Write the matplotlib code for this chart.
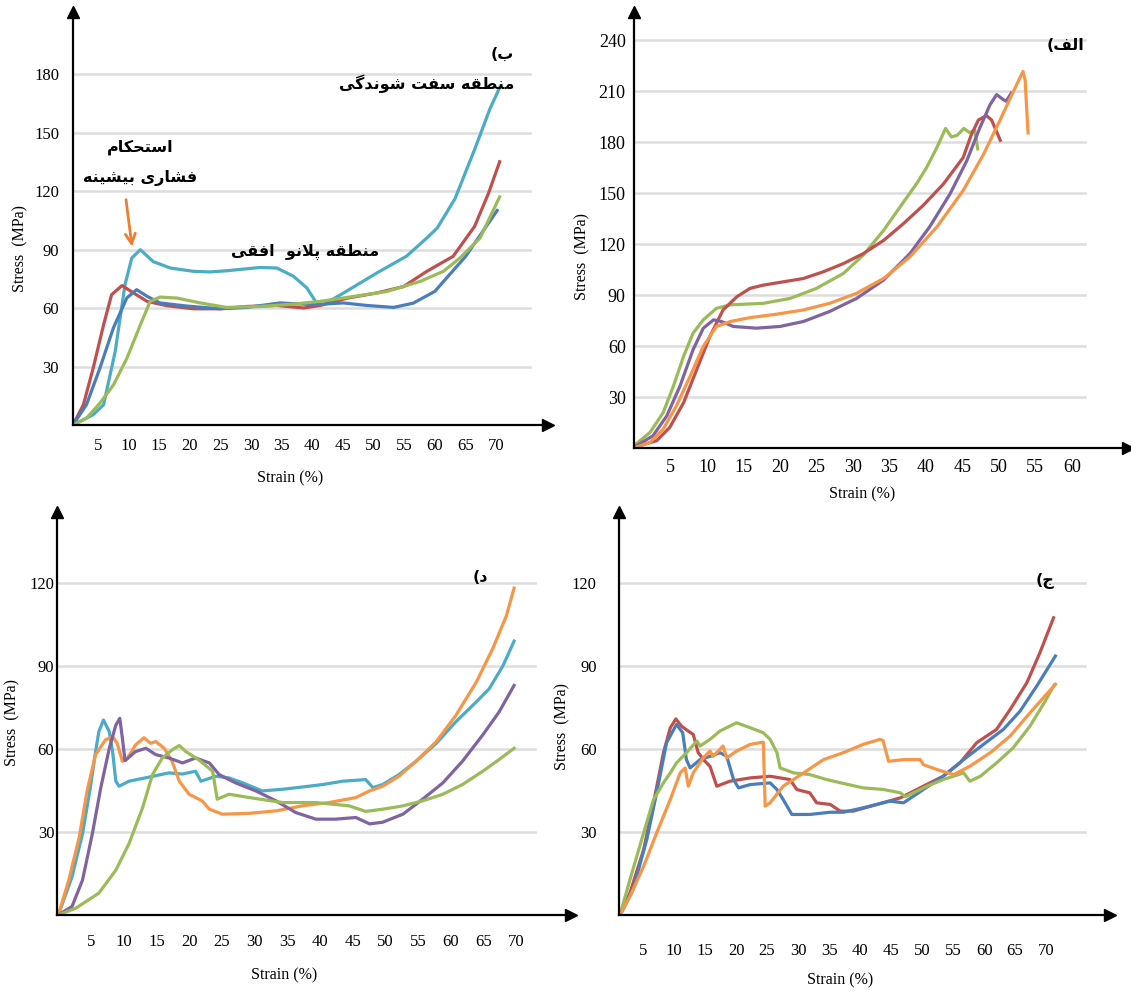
import matplotlib
matplotlib.use("Agg")
import matplotlib.pyplot as plt

# ---------------- data (strain %, stress MPa) ----------------
# panel b (top left)
b_cyan_x = [0.9, 4.2, 5.9, 7.8, 9.4, 10.5, 11.9, 14.0, 16.8, 20.6, 23.3, 26.0, 31.5, 34.2, 36.9, 39.1, 40.7, 41.8,
            45.1, 50.5, 55.4, 58.7, 60.4, 63.3, 66.6, 69.0, 70.6]
b_cyan_y = [0, 5.3, 10.4, 37.8, 72, 85.6, 89.9, 83.8, 80.5, 78.8, 78.5, 79.1, 80.8, 80.5, 76.3, 70.3, 62.5, 61.7,
            67.7, 77.9, 86.6, 95.9, 101, 116, 142, 162, 173]
b_red_x = [0.9, 2.6, 4.2, 5.9, 7.2, 8.9, 10.8, 13.0, 16.2, 20.6, 24.9, 29.3, 34.2, 38.6, 41.3, 45.6, 50.5, 54.9,
           58.7, 63.0, 66.5, 68.8, 70.6]
b_red_y = [0, 10.4, 29.2, 51.4, 66.8, 71.5, 67.7, 63.4, 61.2, 59.6, 59.6, 60.8, 61.3, 60.0, 61.3, 65.0, 67.7, 71.0,
           78.8, 86.5, 101.8, 119, 135]
b_blue_x = [0.9, 3.1, 5.3, 7.5, 9.7, 11.3, 13.0, 15.1, 19.5, 24.9, 29.3, 34.7, 40.2, 45.1, 48.9, 53.3, 56.5, 60.0,
            65.0, 70.2]
b_blue_y = [0, 10.4, 29.2, 49.8, 65.2, 69.4, 66.0, 62.6, 61.0, 59.6, 60.3, 62.6, 61.7, 62.6, 61.3, 60.3, 62.5, 68.5,
            86.3, 110]
b_green_x = [0.9, 3.1, 5.3, 7.5, 9.7, 11.9, 13.5, 15.1, 17.9, 21.7, 26.0, 31.5, 36.9, 41.3, 46.7, 52.2, 57.6, 61.4,
             64.1, 67.4, 70.6]
b_green_y = [0, 3.5, 11.2, 20.5, 34.2, 51.3, 63.4, 65.6, 65.1, 62.6, 60.3, 60.8, 62.0, 63.4, 65.9, 68.5, 73.6, 78.8,
             85.6, 95.9, 117]

# panel alef (top right)
a_green_x = [0, 2.2, 4.0, 5.4, 6.8, 8.1, 9.5, 11.3, 13.2, 17.7, 21.4, 25.0, 28.7, 31.4, 34.2, 36.9, 38.7, 40.1, 41.5,
             42.7, 43.5, 44.3, 45.2, 46.0, 46.7, 47.1]
a_green_y = [1.4, 9.2, 20.8, 36.4, 54, 67.6, 75.4, 82.2, 84.2, 85.1, 88, 93.9, 102.7, 113.4, 128, 144.5, 155.3, 165,
             176.7, 188, 183, 184, 188, 185.5, 187, 176]
a_red_x = [0, 3.1, 4.9, 6.8, 8.6, 10.4, 12.2, 14.1, 15.9, 17.7, 20.5, 23.2, 25.9, 28.7, 31.4, 34.2, 36.9, 39.6, 42.4,
           45.1, 46.2, 47.2, 48.3, 49.0, 49.7, 50.2]
a_red_y = [0.4, 4.3, 12.1, 26.7, 46.2, 65.6, 81.2, 89, 93.9, 95.8, 97.8, 99.7, 103.6, 108.5, 114.3, 122.1, 131.9,
           142.6, 155.3, 170.8, 184, 193, 195.5, 193, 186, 181]
a_purple_x = [0, 2.6, 4.5, 6.3, 8.1, 9.5, 10.9, 12.0, 13.6, 16.8, 20.0, 23.2, 26.8, 30.5, 34.2, 37.8, 40.5, 43.3,
              45.6, 47.4, 48.8, 49.7, 50.6, 51.0, 51.7]
a_purple_y = [0.4, 7.2, 18.9, 36.4, 57.9, 70.5, 75.4, 74.4, 71.5, 70.5, 71.5, 74.4, 80.3, 88, 98.8, 114.3, 130, 149.4,
              168.9, 188.4, 202, 207.9, 205, 204, 208.8]
a_orange_x = [0, 2.2, 4.0, 5.8, 7.7, 9.5, 11.3, 13.2, 15.9, 19.5, 23.2, 26.8, 30.5, 34.2, 37.8, 41.5, 45.1, 47.9,
              50.1, 52.0, 53.3, 53.6, 54.0]
a_orange_y = [0, 3.3, 11.1, 24.7, 42.3, 59.8, 71.5, 74.4, 76.7, 78.7, 81.2, 85.1, 91, 99.7, 112.4, 130, 151.4, 172.8,
              192.3, 209.8, 221.5, 216.6, 185.4]

# panel dal (bottom left)
d_cyan_x = [0, 2.1, 3.7, 4.9, 5.7, 6.2, 6.9, 7.8, 8.3, 8.8, 9.3, 10.8, 13.9, 16.9, 19.0, 21.0, 21.8, 24.1, 26.1,
            28.2, 31.2, 34.3, 37.3, 40.4, 43.5, 47.0, 48.1, 49.6, 52.1, 54.7, 57.8, 60.8, 63.9, 65.9, 68.0, 69.7]
d_cyan_y = [0, 13.8, 29.3, 46, 59, 66.2, 70.4, 66.2, 59, 48.3, 46.5, 48.3, 49.8, 51.3, 50.9, 51.9, 48.3, 50.1, 49.5,
            47.7, 44.8, 45.4, 46.2, 47.1, 48.3, 48.9, 46, 47.1, 50.7, 55.5, 62, 69.8, 76.9, 81.7, 90, 98.9]
d_orange_x = [0, 1.6, 3.2, 4.4, 5.7, 7.2, 8.3, 9.0, 9.8, 10.6, 11.8, 13.1, 14.1, 14.9, 16.2, 17.4, 18.5, 20.0, 22.0,
              23.1, 25.1, 29.2, 33.3, 37.3, 41.4, 45.5, 47.6, 49.6, 52.1, 54.7, 57.8, 60.8, 63.9, 66.4, 68.5, 69.7]
d_orange_y = [0, 12.6, 28.1, 44.8, 57.9, 63.2, 64.4, 62, 55.5, 56.7, 61.4, 64, 62, 62.6, 60.2, 55.5, 48.3, 43.6,
              41.2, 38.2, 36.4, 36.7, 37.6, 39.4, 40.6, 42.4, 44.8, 46.5, 50.1, 55.5, 62.6, 72.1, 84, 96, 107.9, 118]
d_purple_x = [0, 2.1, 3.7, 5.2, 6.5, 7.8, 8.8, 9.4, 9.8, 10.2, 11.8, 13.4, 14.9, 16.9, 19.0, 21.0, 23.1, 24.6, 27.1,
              30.2, 33.3, 36.3, 39.4, 42.4, 45.5, 47.6, 49.6, 52.7, 55.7, 58.8, 61.8, 64.9, 67.4, 69.7]
d_purple_y = [0, 3.1, 12.6, 29.3, 46, 60.2, 68.6, 71, 63.8, 55.7, 59, 60.2, 57.9, 56.7, 54.9, 56.7, 54.9, 50.7, 47.7,
              44.8, 41.2, 37, 34.6, 34.6, 35.2, 32.9, 33.5, 36.4, 41.8, 47.7, 55.5, 65, 73.3, 82.9]
d_green_x = [0, 2.7, 6.2, 8.8, 10.8, 12.9, 14.4, 15.9, 17.4, 18.5, 19.5, 21.5, 23.6, 24.3, 26.1, 29.2, 34.3, 39.4,
             44.5, 47.0, 49.6, 52.7, 55.7, 58.8, 61.8, 64.9, 67.4, 69.7]
d_green_y = [0, 2.5, 7.9, 16.2, 25.7, 38.8, 50.7, 56.7, 59.6, 61.2, 59, 56, 51.9, 41.8, 43.6, 42.4, 40.6, 40.6, 39.4,
             37.4, 38.2, 39.4, 41.2, 43.6, 47.1, 51.9, 56.1, 60.2]

# panel jim (bottom right)
j_red_x = [1.3, 2.9, 5.1, 6.7, 8.3, 9.4, 10.3, 11.2, 12.3, 13.1, 13.9, 15.0, 15.8, 16.9, 19.0, 22.3, 25.5, 28.7,
           29.8, 31.9, 33.0, 35.2, 36.8, 38.9, 42.7, 46.5, 50.2, 53.4, 56.1, 58.8, 62.0, 64.2, 66.9, 69.0, 71.2]
j_red_y = [0, 8, 23.6, 40.5, 58.6, 67.6, 70.8, 68.2, 66.4, 65.2, 58.6, 55.5, 53.7, 46.5, 48.3, 49.5, 50.1, 48.9,
           45.3, 44.1, 40.5, 39.9, 37.5, 37.5, 39.9, 42.3, 46.5, 50.1, 54.9, 62.2, 67, 74.2, 83.9, 94.7, 107.3]
j_blue_x = [1.3, 3.4, 5.6, 7.2, 8.8, 10.4, 11.4, 12.0, 12.6, 14.2, 15.8, 17.4, 18.5, 19.6, 20.4, 22.3, 25.5, 26.6,
            27.6, 29.0, 31.9, 35.2, 37.3, 40.5, 44.8, 47.0, 50.2, 53.4, 56.7, 59.9, 63.1, 65.8, 68.5, 71.5]
j_blue_y = [0, 9.2, 27.2, 44.1, 62.2, 68.8, 65.8, 56.1, 53.1, 56.1, 57.3, 58.6, 57.3, 48.9, 45.9, 47.1, 47.7, 45.3,
            41.7, 36.3, 36.3, 37.1, 37.1, 38.7, 41.1, 40.5, 45.3, 50.1, 56.1, 61.6, 67, 73.6, 82.7, 93.5]
j_green_x = [1.3, 2.9, 5.1, 6.7, 8.3, 9.4, 10.4, 12.0, 13.7, 14.2, 15.8, 17.4, 19.0, 20.1, 22.3, 24.4, 25.5, 26.6,
             27.1, 29.3, 31.9, 34.6, 37.3, 40.5, 43.8, 46.5, 47.3, 50.8, 53.4, 56.7, 57.7, 59.4, 62.0, 64.7, 67.4,
             69.8, 71.3]
j_green_y = [0, 12.8, 29.6, 41.7, 47.7, 51.3, 54.9, 58.6, 62.8, 61, 63.4, 66.4, 68.2, 69.4, 67.6, 65.8, 63.4, 58.6,
             53.1, 51.3, 50.7, 48.9, 47.5, 45.9, 45.3, 44.1, 42.7, 46.5, 48.9, 51.3, 48.3, 50.1, 54.9, 60.4, 68.2,
             77, 83]
j_orange_x = [1.3, 2.9, 5.1, 7.2, 9.4, 11.0, 11.8, 12.3, 13.1, 14.7, 15.8, 16.3, 17.4, 17.9, 18.5, 20.1, 22.3, 24.4,
              24.7, 25.5, 27.6, 30.9, 34.1, 37.3, 40.5, 43.2, 43.7, 44.6, 47.0, 49.7, 50.2, 52.4, 55.1, 57.7, 61.0,
              64.2, 67.4, 71.5]
j_orange_y = [0, 6.7, 17.6, 29.6, 41.7, 51.3, 53.1, 46.5, 51.3, 56.7, 59.2, 57.3, 59.8, 61, 56.7, 59.2, 61.6, 62.4,
              39.3, 40.5, 46.5, 51.3, 56.1, 58.6, 61.6, 63.4, 63, 55.5, 56.1, 56.1, 54.3, 52.5, 50.7, 53.7, 58.6,
              64.6, 73, 83.3]

xticks_70 = [5, 10, 15, 20, 25, 30, 35, 40, 45, 50, 55, 60, 65, 70]
xticks_60 = [5, 10, 15, 20, 25, 30, 35, 40, 45, 50, 55, 60]
yticks_b = [30, 60, 90, 120, 150, 180]
yticks_a = [30, 60, 90, 120, 150, 180, 210, 240]
yticks_dj = [30, 60, 90, 120]

label_b = "ب)"
label_a = "الف)"
label_d = "د)"
label_j = "ج)"
note_hard = "منطقه سفت شوندگی"
note_peak1 = "استحکام"
note_peak2 = "فشاری بیشینه"
note_plateau = "منطقه پلانو  افقی"

BLUE, RED, GREEN = "#4A7EBB", "#C0504D", "#9BBB59"
PURPLE, CYAN, ORANGE = "#8064A2", "#4BACC6", "#F79646"

# ---------------- simple Persian shaping (matplotlib has no text shaping) ----------------
FORMS = {
    "ا": ("\uFE8D", "\uFE8E", None, None),
    "ب": ("\uFE8F", "\uFE90", "\uFE91", "\uFE92"),
    "ت": ("\uFE95", "\uFE96", "\uFE97", "\uFE98"),
    "ج": ("\uFE9D", "\uFE9E", "\uFE9F", "\uFEA0"),
    "ح": ("\uFEA1", "\uFEA2", "\uFEA3", "\uFEA4"),
    "د": ("\uFEA9", "\uFEAA", None, None),
    "ر": ("\uFEAD", "\uFEAE", None, None),
    "س": ("\uFEB1", "\uFEB2", "\uFEB3", "\uFEB4"),
    "ش": ("\uFEB5", "\uFEB6", "\uFEB7", "\uFEB8"),
    "ط": ("\uFEC1", "\uFEC2", "\uFEC3", "\uFEC4"),
    "ف": ("\uFED1", "\uFED2", "\uFED3", "\uFED4"),
    "ق": ("\uFED5", "\uFED6", "\uFED7", "\uFED8"),
    "ل": ("\uFEDD", "\uFEDE", "\uFEDF", "\uFEE0"),
    "م": ("\uFEE1", "\uFEE2", "\uFEE3", "\uFEE4"),
    "ن": ("\uFEE5", "\uFEE6", "\uFEE7", "\uFEE8"),
    "ه": ("\uFEE9", "\uFEEA", "\uFEEB", "\uFEEC"),
    "و": ("\uFEED", "\uFEEE", None, None),
    "\u067E": ("\uFB56", "\uFB57", "\uFB58", "\uFB59"),  # peh
    "\u06A9": ("\uFB8E", "\uFB8F", "\uFB90", "\uFB91"),  # keheh
    "\u06AF": ("\uFB92", "\uFB93", "\uFB94", "\uFB95"),  # gaf
    "\u06CC": ("\uFBFC", "\uFBFD", "\uFBFE", "\uFBFF"),  # farsi yeh
}


def dual(c):
    return c in FORMS and FORMS[c][2] is not None


def fa(s):
    s = s.replace("\u064A", "\u06CC").replace("\u0643", "\u06A9")
    out = []
    i = 0
    while i < len(s):
        c = s[i]
        if c not in FORMS:
            out.append(c)
            i += 1
            continue
        jp = i > 0 and dual(s[i - 1])
        if c == "ل" and i + 1 < len(s) and s[i + 1] == "ا":
            out.append("\uFEFC" if jp else "\uFEFB")
            i += 2
            continue
        jn = dual(c) and i + 1 < len(s) and s[i + 1] in FORMS
        iso, fin, ini, med = FORMS[c]
        out.append(med if (jp and jn) else fin if jp else ini if jn else iso)
        i += 1
    return "".join(reversed(out)).translate(str.maketrans("()", ")("))


# ---------------- figure ----------------
W, H = 1131, 992
fig = plt.figure(figsize=(W / 100, H / 100), dpi=100)
fig.patch.set_facecolor("white")
SERIF = "Liberation Serif"


def panel(left, right, bottom, top, xlim, ylim, xticks, yticks, grid_end, xpad, ypad, fs=12):
    ax = fig.add_axes([left / W, 1 - bottom / H, (right - left) / W, (bottom - top) / H])
    ax.set_xlim(*xlim)
    ax.set_ylim(*ylim)
    for s in ["top", "right"]:
        ax.spines[s].set_visible(False)
    for s in ["left", "bottom"]:
        ax.spines[s].set_color("black")
        ax.spines[s].set_linewidth(1.6)
    ax.plot(1, 0, ">", color="black", ms=9, transform=ax.transAxes, clip_on=False)
    ax.plot(0, 1, "^", color="black", ms=9, transform=ax.transAxes, clip_on=False)
    for y in yticks:
        ax.axhline(y, xmin=0, xmax=grid_end, color="#DDDDDD", lw=1.8, zorder=0)
    ax.set_xticks(xticks)
    ax.set_xticklabels([str(v) for v in xticks], family=SERIF, fontsize=fs)
    ax.set_yticks(yticks)
    ax.set_yticklabels([str(v) for v in yticks], family=SERIF, fontsize=fs)
    ax.tick_params(axis="x", length=0, pad=xpad)
    ax.tick_params(axis="y", length=0, pad=ypad)
    return ax


def ftext(x, y, s, **kw):
    fig.text(x / W, 1 - y / H, s, ha="center", va="center", **kw)


persian = dict(family="DejaVu Sans", fontweight="bold", fontsize=11.5)
axis_font = dict(family=SERIF, fontsize=11.5)

# top left: panel b
ax_b = panel(73, 548, 425, 12, (0.9, 78.5), (0, 211.8), xticks_70, yticks_b, 0.962, 9, 10)
ax_b.plot(b_cyan_x, b_cyan_y, color=CYAN, lw=2.3)
ax_b.plot(b_red_x, b_red_y, color=RED, lw=2.3)
ax_b.plot(b_blue_x, b_blue_y, color=BLUE, lw=2.3)
ax_b.plot(b_green_x, b_green_y, color=GREEN, lw=2.3)
ax_b.annotate("", xy=(10.6, 90), xytext=(9.5, 117),
              arrowprops=dict(arrowstyle="->", color="#ED7D31", lw=2, mutation_scale=18))
ftext(427, 84, fa(note_hard), **persian)
ftext(140, 147, fa(note_peak1), **persian)
ftext(140, 178, fa(note_peak2), **persian)
ftext(305, 252, fa(note_plateau), **persian)
ftext(502, 54, fa(label_b), **persian)
ftext(290, 478, "Strain (%)", **axis_font)
ftext(20, 249, "Stress  (MPa)", rotation=90, **axis_font)

# top right: panel alef
ax_a = panel(634, 1128, 448, 12, (0, 67.7), (0, 256.5), xticks_60, yticks_a, 0.913, 8, 6, fs=13)
ax_a.plot(a_green_x, a_green_y, color=GREEN, lw=2.3)
ax_a.plot(a_red_x, a_red_y, color=RED, lw=2.3)
ax_a.plot(a_purple_x, a_purple_y, color=PURPLE, lw=2.3)
ax_a.plot(a_orange_x, a_orange_y, color=ORANGE, lw=2.3)
ftext(1065, 45, fa(label_a), **persian)
ftext(862, 494, "Strain (%)", **axis_font)
ftext(582, 256, "Stress  (MPa)", rotation=90, **axis_font)

# bottom left: panel dal
ax_d = panel(57, 571, 915, 512, (-0.2, 78.4), (0, 145.5), xticks_70, yticks_dj, 0.93, 14, 2)
ax_d.plot(d_cyan_x, d_cyan_y, color=CYAN, lw=2.3)
ax_d.plot(d_orange_x, d_orange_y, color=ORANGE, lw=2.3)
ax_d.plot(d_purple_x, d_purple_y, color=PURPLE, lw=2.3)
ax_d.plot(d_green_x, d_green_y, color=GREEN, lw=2.3)
ftext(480, 577, fa(label_d), **persian)
ftext(284, 975, "Strain (%)", **axis_font)
ftext(12, 722, "Stress  (MPa)", rotation=90, **axis_font)

# bottom right: panel jim
ax_j = panel(619, 1110, 915, 512, (1.13, 80.3), (0, 145.5), xticks_70, yticks_dj, 0.95, 20, 16)
ax_j.plot(j_red_x, j_red_y, color=RED, lw=2.3)
ax_j.plot(j_blue_x, j_blue_y, color=BLUE, lw=2.3)
ax_j.plot(j_green_x, j_green_y, color=GREEN, lw=2.3)
ax_j.plot(j_orange_x, j_orange_y, color=ORANGE, lw=2.3)
ftext(1045, 581, fa(label_j), **persian)
ftext(840, 980, "Strain (%)", **axis_font)
ftext(562, 727, "Stress  (MPa)", rotation=90, **axis_font)

fig.savefig("out.png", dpi=100, facecolor="white")
